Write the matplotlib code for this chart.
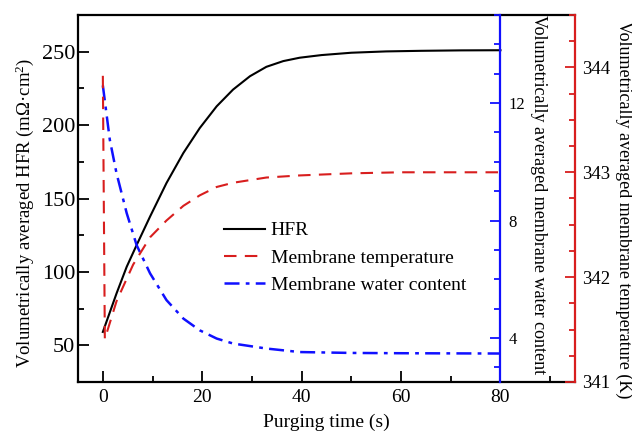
import numpy as np
import matplotlib
matplotlib.use('Agg')
import matplotlib.pyplot as plt
from matplotlib.ticker import MultipleLocator

plt.rcParams['font.family'] = ['Liberation Serif', 'DejaVu Serif']
plt.rcParams['mathtext.fontset'] = 'custom'
plt.rcParams['mathtext.rm'] = 'Liberation Serif'
plt.rcParams['mathtext.it'] = 'Liberation Serif:italic'

# HFR vs purging time (left axis)
hfr_time = [0, 2.75, 4.8, 6.8, 9.5, 12.8, 16.2, 19.5, 22.9, 26.2, 29.6, 32.9, 36.3,
            39.6, 44, 50, 57, 64, 72, 80]
hfr = [59.1, 85.3, 103.5, 118.3, 137.7, 160.5, 181, 198, 212.8, 224.2, 233.3, 239.7,
       243.6, 245.9, 247.7, 249.3, 250.2, 250.6, 250.9, 251]

# membrane temperature (red axis)
temp_time = [0, 0.4, 2.75, 6.1, 9.5, 12.8, 16.2, 19.5, 22.9, 26.2, 32.9, 39.6, 50, 60, 80]
temp = [343.92, 341.41, 341.77, 342.12, 342.38, 342.54, 342.68, 342.78, 342.86,
        342.90, 342.95, 342.97, 342.99, 343.0, 343.0]

# membrane water content (blue axis)
water_time = [0, 1.4, 2.75, 4.8, 6.8, 9.5, 12.8, 16.2, 19.5, 22.9, 26.2, 32.9, 39.6,
              50, 60, 80]
water = [12.6, 10.75, 9.61, 8.25, 7.16, 6.2, 5.29, 4.66, 4.26, 3.98, 3.81, 3.64, 3.52,
         3.49, 3.48, 3.47]

RED = '#d81e1e'
BLUE = '#1010ff'

fig = plt.figure(figsize=(6.32, 4.32), dpi=100)
ax = fig.add_axes([78 / 632, 1 - 382 / 432, 497 / 632, 367 / 432])
ax_w = ax.twinx()
ax_t = ax.twinx()

l1, = ax.plot(hfr_time, hfr, color='black', lw=1.5, label='HFR')
l2, = ax_t.plot(temp_time, temp, color=RED, lw=1.5, dashes=(6, 4), label='Membrane temperature')
l3, = ax_w.plot(water_time, water, color=BLUE, lw=1.8, dashes=(6, 2.5, 1.5, 2.5),
                label='Membrane water content')

ax.set_xlim(-5, 95)
ax.set_ylim(25, 275)
ax_w.set_ylim(2.5, 15)
ax_t.set_ylim(341, 344.5)

ax.xaxis.set_major_locator(MultipleLocator(20))
ax.xaxis.set_minor_locator(MultipleLocator(10))
ax.yaxis.set_major_locator(MultipleLocator(50))
ax.yaxis.set_minor_locator(MultipleLocator(25))
ax_w.yaxis.set_major_locator(MultipleLocator(4))
ax_w.yaxis.set_minor_locator(MultipleLocator(1))
ax_t.yaxis.set_major_locator(MultipleLocator(1))
ax_t.yaxis.set_minor_locator(MultipleLocator(0.25))

for s in ax.spines.values():
    s.set_linewidth(1.6)
ax.spines['right'].set_visible(False)
for a in (ax_w, ax_t):
    for side in ('left', 'top', 'bottom'):
        a.spines[side].set_visible(False)

ax_w.spines['right'].set_position(('data', 80))
ax_w.spines['right'].set_color(BLUE)
ax_w.spines['right'].set_linewidth(1.6)
ax_t.spines['right'].set_color(RED)
ax_t.spines['right'].set_linewidth(1.6)

ax.tick_params(axis='y', which='both', direction='in', width=1.3, labelsize=16, pad=2)
ax.tick_params(axis='x', which='both', direction='in', width=1.3, labelsize=14, pad=5)
ax.tick_params(which='major', length=8)
ax.tick_params(which='minor', length=4)
ax.tick_params(top=False, which='both')

ax_w.tick_params(axis='y', which='both', direction='in', colors=BLUE, width=1.3,
                 labelsize=12, labelcolor='black', pad=6)
ax_w.tick_params(which='major', length=7)
ax_w.tick_params(which='minor', length=4)
ax_t.tick_params(axis='y', which='both', direction='in', colors=RED, width=1.3,
                 labelsize=13.5, labelcolor='black', pad=5)
ax_t.tick_params(which='major', length=7)
ax_t.tick_params(which='minor', length=4)

ax.set_xlabel('Purging time (s)', fontsize=14, va='top')
ax.xaxis.set_label_coords(0.5, -0.087)
ax.set_ylabel('Volumetrically averaged HFR (m\u03a9\u00b7cm$^2$)', fontsize=13.5,
              va='center', ha='center')
ax.yaxis.set_label_coords(-0.107, 0.46)
ax_w.set_ylabel('Volumetrically averaged membrane water content', fontsize=13,
                rotation=270, va='center', ha='center')
ax_w.yaxis.set_label_coords(0.927, 0.512)
ax_t.set_ylabel('Volumetrically averaged membrane temperature (K)', fontsize=13,
                rotation=270, va='center', ha='center')
ax_t.yaxis.set_label_coords(1.098, 0.47)

ax.legend(handles=[l1, l2, l3], loc='center left', frameon=False, fontsize=14,
          bbox_to_anchor=(224 / 632, 1 - 258 / 432), bbox_transform=fig.transFigure,
          borderpad=0, borderaxespad=0, handlelength=2.1, handletextpad=0.3,
          labelspacing=0.5)

fig.savefig('out.png', dpi=100)
